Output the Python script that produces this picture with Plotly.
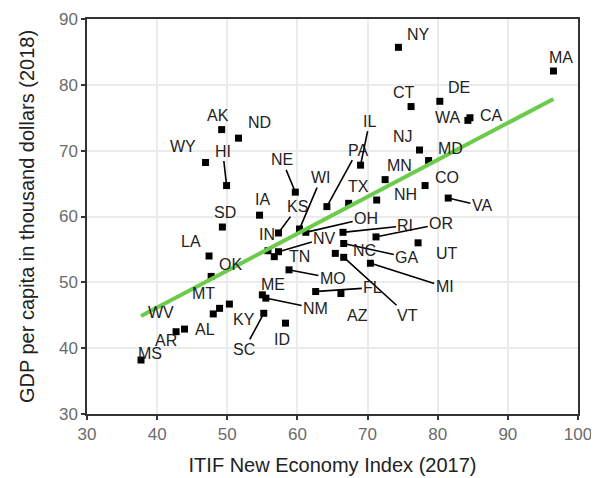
import numpy as np
import plotly.graph_objects as go

# ITIF New Economy Index (2017) vs GDP per capita (2018, thousand dollars)
states = [
    "AK", "ND", "WY", "HI", "NE", "IA", "SD", "KS", "IN", "NV",
    "TN", "WI", "OH", "PA", "IL", "TX", "NY", "MA", "CT", "DE",
    "WA", "CA", "NJ", "MD", "MN", "CO", "NH", "VA", "RI", "OR",
    "UT", "GA", "NC", "VT", "MI", "MO", "FL", "AZ", "ME", "NM",
    "ID", "SC", "KY", "MT", "AL", "OK", "LA", "WV", "AR", "MS",
]
nei_index = [
    49.2, 51.6, 46.9, 49.9, 59.7, 54.6, 49.3, 57.3, 55.8, 57.3,
    56.7, 60.3, 61.2, 64.2, 69.0, 67.3, 74.4, 96.5, 76.2, 80.3,
    84.3, 84.6, 77.4, 78.7, 72.5, 78.2, 71.3, 81.5, 66.5, 71.2,
    77.2, 66.6, 65.4, 66.6, 70.4, 58.8, 62.6, 66.2, 55.0, 55.5,
    58.3, 55.2, 50.3, 48.9, 48.0, 47.7, 47.4, 42.7, 43.9, 37.7,
]
gdp_per_capita = [
    73.2, 71.9, 68.2, 64.7, 63.7, 60.2, 58.4, 57.5, 54.8, 54.65,
    53.9, 58.1, 57.6, 61.5, 67.8, 62.0, 85.7, 82.1, 76.7, 77.5,
    74.6, 75.0, 70.1, 68.5, 65.6, 64.7, 62.5, 62.8, 57.6, 56.9,
    56.0, 55.9, 54.4, 53.8, 52.9, 51.9, 48.6, 48.3, 48.1, 47.6,
    43.8, 45.3, 46.7, 46.05, 45.2, 50.9, 54.0, 42.5, 42.9, 38.2,
]

# repelled label placement (label centre, whether a segment is drawn)
label_pos = {
    "AK": (48.65, 75.4, False), "ND": (54.6, 74.3, False), "WY": (43.75, 70.6, False),
    "HI": (49.35, 69.95, True), "NE": (57.8, 68.6, True), "IA": (55.0, 62.6, False),
    "SD": (49.7, 60.6, False), "KS": (60.05, 61.5, True), "IN": (55.6, 57.2, False),
    "NV": (63.9, 56.7, True), "TN": (60.3, 53.9, False), "WI": (63.4, 65.9, True),
    "OH": (69.8, 59.7, True), "PA": (68.6, 70.1, True), "IL": (70.3, 74.5, True),
    "TX": (68.75, 64.5, False), "NY": (77.3, 87.6, False), "MA": (97.6, 84.1, False),
    "CT": (75.2, 78.8, False), "DE": (83.0, 79.6, False), "WA": (81.4, 75.1, False),
    "CA": (87.6, 75.3, False), "NJ": (75.1, 72.1, False), "MD": (81.8, 70.4, False),
    "MN": (74.6, 67.7, False), "CO": (81.35, 65.95, False), "NH": (75.4, 63.3, False),
    "VA": (86.3, 61.6, True), "RI": (75.4, 58.6, True), "OR": (80.5, 58.9, True),
    "UT": (81.3, 54.4, False), "GA": (75.6, 53.8, True), "NC": (69.55, 54.9, False),
    "VT": (75.7, 45.0, True), "MI": (81.0, 49.3, True), "MO": (65.05, 50.6, True),
    "FL": (70.75, 49.2, True), "AZ": (68.5, 45.0, False), "ME": (56.5, 49.7, False),
    "NM": (62.6, 46.05, True), "ID": (57.8, 41.3, False), "SC": (52.45, 39.8, True),
    "KY": (52.35, 44.3, False), "MT": (46.65, 48.3, False), "AL": (46.85, 42.9, False),
    "OK": (50.45, 52.7, False), "LA": (44.85, 56.2, False), "WV": (40.6, 45.4, False),
    "AR": (41.3, 41.1, False), "MS": (39.05, 39.2, False),
}

x = np.array(nei_index)
y = np.array(gdp_per_capita)

# linear fit (geom_smooth lm style)
slope, intercept = np.polyfit(x, y, 1)
fit_x = np.array([x.min(), x.max()])
fit_y = slope * fit_x + intercept

fig = go.Figure()

fig.add_trace(
    go.Scatter(
        x=x, y=y, mode="markers",
        marker=dict(symbol="square", size=7, color="black"),
        hoverinfo="text", text=states, showlegend=False,
    )
)

fig.add_trace(
    go.Scatter(
        x=fit_x, y=fit_y, mode="lines",
        line=dict(color="#6CCB4C", width=4),
        hoverinfo="skip", showlegend=False,
    )
)

for st, px, py in zip(states, nei_index, gdp_per_capita):
    lx, ly, seg = label_pos[st]
    if seg:
        fig.add_annotation(
            x=px, y=py, ax=lx, ay=ly, axref="x", ayref="y",
            text=st, showarrow=True, arrowhead=0, arrowwidth=1.6,
            arrowcolor="black", standoff=2,
            font=dict(size=16, color="#222222"),
        )
    else:
        fig.add_annotation(
            x=lx, y=ly, text=st, showarrow=False,
            font=dict(size=16, color="#222222"),
        )

axis_common = dict(
    showgrid=True, gridcolor="#EBEBEB", gridwidth=2,
    zeroline=False, showline=True, linecolor="#333333", linewidth=1.5,
    mirror=True, ticks="outside", ticklen=4, tickwidth=1.5, tickcolor="#333333",
    tickfont=dict(size=17, color="#6b6b6b"),
    automargin=False,
)

# page body adds ~8px offset, so the figure is sized to fill the rest
fig.update_layout(
    width=591,
    height=470,
    margin=dict(l=79, r=21, t=11, b=64),
    plot_bgcolor="white",
    paper_bgcolor="white",
    font=dict(family="Liberation Sans, Arial, sans-serif"),
    xaxis=dict(
        range=[30, 100], dtick=10,
        title=dict(text="ITIF New Economy Index (2017)",
                   font=dict(size=20, color="#222222"), standoff=15),
        **axis_common,
    ),
    yaxis=dict(
        range=[30, 90], dtick=10,
        title=dict(text="GDP per capita in thousand dollars (2018)",
                   font=dict(size=20, color="#222222"), standoff=19),
        **axis_common,
    ),
)

fig.write_html("out.html")
